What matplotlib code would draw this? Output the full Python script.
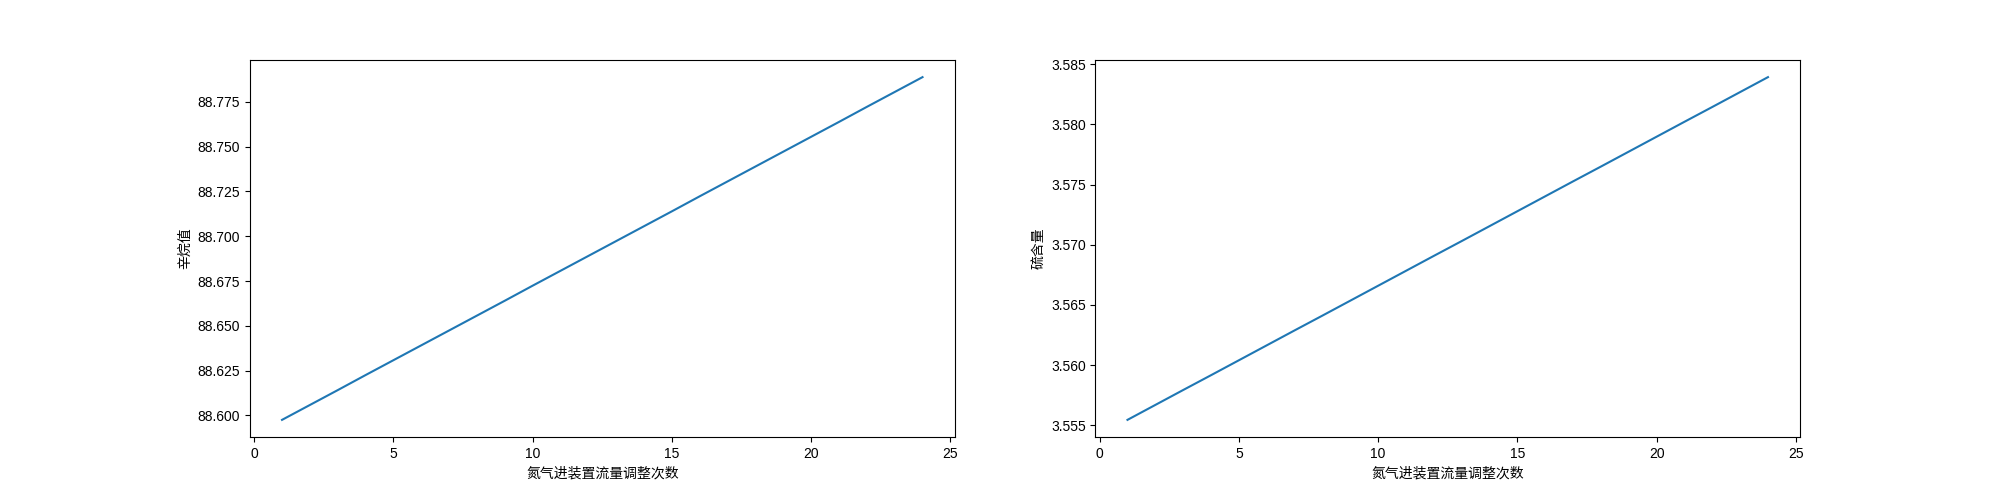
import matplotlib
matplotlib.use("Agg")
import matplotlib.pyplot as plt

plt.rcParams['font.family'] = ['Liberation Sans', 'Noto Sans CJK SC', 'DejaVu Sans']
plt.rcParams['axes.unicode_minus'] = False

adjust_counts = list(range(1, 25))
octane_values = [88.5975, 88.6058, 88.6141, 88.6225, 88.6308, 88.6391, 88.6474, 88.6557,
                 88.6640, 88.6724, 88.6807, 88.6890, 88.6973, 88.7056, 88.7139, 88.7223,
                 88.7306, 88.7389, 88.7472, 88.7555, 88.7638, 88.7722, 88.7805, 88.7888]
sulfur_values = [3.55545, 3.55669, 3.55793, 3.55916, 3.56040, 3.56164, 3.56288, 3.56411,
                 3.56535, 3.56659, 3.56783, 3.56907, 3.57030, 3.57154, 3.57278, 3.57402,
                 3.57526, 3.57649, 3.57773, 3.57897, 3.58021, 3.58144, 3.58268, 3.58392]

x_label = "氮气进装置流量调整次数"
y_label_left = "辛烷值"
y_label_right = "硫含量"

fig, (ax1, ax2) = plt.subplots(1, 2, figsize=(20, 5), dpi=100)
fig.subplots_adjust(left=0.125, right=0.9, top=0.88, bottom=0.126, wspace=0.2)

ax1.plot(adjust_counts, octane_values, color='#1f77b4')
ax1.set_xlabel(x_label)
ax1.set_ylabel(y_label_left)
ax1.ticklabel_format(useOffset=False, axis='y')

ax2.plot(adjust_counts, sulfur_values, color='#1f77b4')
ax2.set_xlabel(x_label)
ax2.set_ylabel(y_label_right)
ax2.ticklabel_format(useOffset=False, axis='y')

fig.savefig("out.png", dpi=100)
